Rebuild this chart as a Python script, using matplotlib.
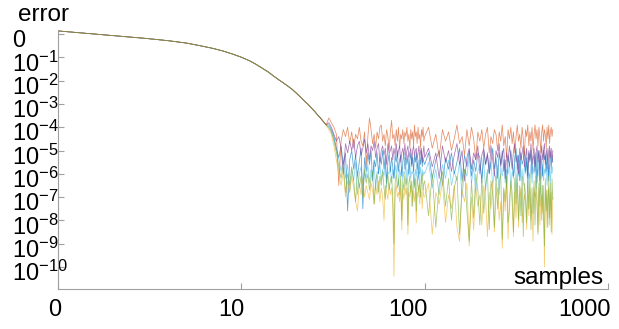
import numpy as np
import matplotlib
matplotlib.use('Agg')
import matplotlib.pyplot as plt
import matplotlib.transforms as mtransforms

plt.rcParams['font.family'] = ['Liberation Sans', 'DejaVu Sans']
plt.rcParams['mathtext.fontset'] = 'custom'
plt.rcParams['mathtext.rm'] = 'Liberation Sans'
plt.rcParams['mathtext.it'] = 'Liberation Sans:italic'

# sample counts (x) -- smooth part shared by all runs, then the noisy part
samples_decay = list(range(1, 30))
samples_noise = list(range(30, 100)) + list(range(100, 505, 5))

# log10(error)
decay_log = [0.14, -0.06, -0.18, -0.28, -0.38, -0.50, -0.61, -0.73, -0.86, -0.99,
             -1.13, -1.29, -1.46, -1.62, -1.80, -1.96, -2.10, -2.24, -2.38, -2.54,
             -2.70, -2.86, -3.00, -3.15, -3.30, -3.46, -3.60, -3.75, -3.90]

# noisy part: first 70 values for n=30..99, then 81 values for n=100..500
orange_log = [-3.6, -3.8, -4.0, -4.3, -6.5, -4.6, -4.1, -4.4, -4.0, -4.7,
              -4.2, -4.9, -4.3, -4.5, -4.0, -4.6, -4.8, -4.2, -5.6, -4.4,
              -3.6, -4.1, -4.7, -4.3, -4.9, -4.2, -4.5, -4.0, -3.9, -4.6,
              -4.3, -4.8, -4.1, -4.4, -5.0, -4.2, -3.7, -4.5, -4.3, -4.8,
              -4.1, -4.6, -4.0, -4.9, -4.3, -4.5, -4.1, -4.7, -4.2, -4.4,
              -4.0, -4.6, -4.3, -4.9, -4.1, -4.5, -4.2, -4.8, -3.9, -4.4,
              -4.2, -4.7, -4.0, -4.5, -4.3, -4.9, -4.1, -4.4, -4.0, -4.6,
              -4.4, -4.0, -4.9, -4.3, -5.3, -4.1, -4.6, -4.2, -5.0, -4.5,
              -3.9, -4.7, -4.4, -5.2, -4.1, -4.8, -4.0, -4.5, -5.4, -4.2,
              -4.6, -4.1, -4.9, -4.3, -4.0, -5.1, -4.4, -4.7, -4.1, -4.3,
              -5.0, -4.2, -4.6, -3.9, -4.8, -4.4, -5.3, -4.1, -4.5, -4.0,
              -4.7, -4.2, -5.1, -4.4, -3.9, -4.6, -4.3, -4.9, -4.0, -4.5,
              -5.2, -4.1, -4.4, -3.9, -4.8, -4.2, -4.6, -4.0, -5.0, -4.3,
              -3.9, -4.5, -4.1, -4.8, -4.0, -4.4, -5.1, -4.2, -3.9, -4.6,
              -4.1, -4.3, -4.9, -4.0, -4.5, -3.9, -4.7, -4.2, -4.0, -4.4,
              -4.1]

purple_log = [-3.8, -4.0, -4.3, -4.6, -4.4, -4.9, -6.0, -4.7, -5.1, -4.6,
              -5.0, -4.5, -5.3, -4.8, -4.6, -5.2, -4.9, -4.5, -5.1, -4.7,
              -5.4, -4.8, -5.0, -4.6, -5.3, -4.9, -4.7, -5.5, -5.0, -4.8,
              -5.2, -4.9, -5.6, -4.7, -5.1, -5.0, -4.8, -5.4, -4.9, -5.2,
              -4.7, -5.3, -5.0, -4.8, -5.5, -5.1, -4.9, -5.2, -4.7, -5.4,
              -5.0, -4.8, -5.3, -5.1, -4.9, -5.6, -5.0, -4.8, -5.2, -5.0,
              -4.9, -5.4, -5.1, -4.8, -5.3, -5.0, -4.9, -5.5, -5.1, -4.8,
              -5.3, -4.9, -5.7, -5.1, -6.2, -4.8, -5.5, -5.0, -5.9, -5.2,
              -4.7, -5.6, -5.0, -6.3, -5.3, -4.9, -5.8, -5.1, -5.4, -4.8,
              -6.0, -5.2, -4.9, -5.6, -5.1, -5.9, -4.8, -5.4, -6.1, -5.0,
              -5.3, -4.7, -5.7, -5.2, -4.9, -6.2, -5.1, -5.5, -4.8, -5.3,
              -5.8, -5.0, -4.7, -5.5, -5.2, -6.0, -4.9, -5.4, -5.1, -4.8,
              -5.7, -5.3, -4.9, -6.1, -5.0, -5.4, -4.7, -5.6, -5.2, -4.9,
              -5.9, -5.1, -4.8, -5.5, -5.0, -6.3, -5.2, -4.8, -5.4, -5.0,
              -4.7, -5.6, -5.1, -4.9, -5.8, -5.0, -4.8, -5.3, -4.9, -5.5,
              -5.0]

blue_log = [-3.9, -4.1, -4.4, -4.9, -5.3, -4.8, -5.6, -5.1, -7.6, -5.4,
            -5.0, -5.8, -5.2, -6.1, -5.5, -4.9, -7.5, -5.3, -5.9, -5.1,
            -5.6, -5.0, -6.3, -5.4, -5.7, -5.1, -6.0, -5.3, -5.6, -5.0,
            -5.8, -5.2, -6.4, -5.5, -5.1, -5.9, -5.3, -5.7, -6.2, -5.2,
            -5.5, -5.0, -5.9, -5.4, -5.2, -6.1, -5.5, -5.1, -5.8, -5.3,
            -5.6, -5.2, -6.0, -5.4, -5.1, -5.7, -5.3, -5.9, -5.2, -5.5,
            -5.1, -5.8, -5.4, -6.2, -5.3, -5.6, -5.0, -5.7, -5.3, -5.5,
            -5.6, -5.1, -6.2, -5.4, -5.0, -6.5, -5.3, -5.8, -5.1, -6.0,
            -5.5, -4.9, -6.3, -5.2, -5.7, -5.0, -6.1, -5.4, -5.9, -5.1,
            -5.3, -6.4, -5.0, -5.6, -5.2, -6.0, -5.5, -4.9, -5.8, -5.3,
            -6.2, -5.1, -5.6, -5.0, -5.9, -5.4, -6.6, -5.2, -5.7, -5.0,
            -5.5, -6.1, -5.3, -4.9, -5.8, -5.2, -6.3, -5.1, -5.6, -5.4,
            -5.0, -5.9, -5.3, -6.2, -5.1, -5.5, -5.0, -6.0, -5.4, -5.2,
            -5.7, -5.1, -6.4, -5.3, -5.0, -5.8, -5.2, -5.6, -6.1, -5.0,
            -5.4, -5.2, -5.9, -5.1, -5.5, -6.3, -5.0, -5.3, -5.8, -5.2,
            -5.5]

lightblue_log = [-4.0, -4.2, -4.5, -5.0, -5.4, -5.9, -5.3, -6.2, -5.6, -6.8,
                 -5.8, -6.3, -5.5, -6.9, -6.0, -5.7, -6.5, -5.9, -6.2, -5.6,
                 -6.4, -5.8, -6.1, -5.5, -6.7, -5.9, -6.0, -5.6, -6.3, -5.8,
                 -6.1, -5.5, -6.6, -5.9, -6.0, -5.7, -6.4, -5.8, -6.2, -5.6,
                 -6.0, -5.5, -6.5, -5.8, -6.1, -5.7, -6.3, -5.9, -6.0, -5.6,
                 -6.4, -5.8, -6.1, -5.5, -6.2, -5.9, -6.0, -5.7, -6.5, -5.8,
                 -6.1, -5.6, -6.3, -5.9, -6.0, -5.7, -6.4, -5.8, -6.1, -5.9,
                 -6.0, -5.5, -6.6, -5.8, -6.9, -5.6, -6.2, -5.4, -6.5, -5.9,
                 -6.3, -5.5, -7.0, -5.8, -6.1, -5.3, -6.4, -5.7, -6.8, -5.9,
                 -5.6, -6.2, -5.4, -6.7, -5.8, -6.0, -5.5, -6.5, -5.9, -6.3,
                 -5.6, -6.9, -5.7, -6.1, -5.4, -6.4, -5.8, -6.0, -5.5, -6.6,
                 -5.9, -6.2, -5.6, -6.8, -5.7, -6.1, -5.4, -6.3, -5.8, -6.5,
                 -5.6, -6.0, -5.5, -6.7, -5.9, -6.2, -5.6, -6.4, -5.7, -6.0,
                 -5.5, -6.6, -5.8, -6.1, -5.4, -6.9, -5.7, -6.2, -5.6, -6.3,
                 -5.8, -6.0, -5.5, -6.5, -5.7, -6.1, -5.6, -6.4, -5.8, -6.0,
                 -5.7]

green_log = [-4.0, -4.2, -4.6, -5.1, -5.7, -6.2, -5.6, -6.8, -6.0, -6.5,
             -5.7, -6.3, -7.2, -5.9, -6.6, -6.1, -7.0, -5.8, -6.4, -6.0,
             -6.7, -6.2, -5.9, -7.3, -6.3, -6.0, -6.8, -6.1, -6.5, -5.9,
             -6.6, -7.1, -6.2, -6.0, -6.7, -6.3, -6.1, -7.0, -9.0, -6.4,
             -6.0, -6.6, -6.2, -6.9, -6.1, -8.0, -6.3, -6.7, -6.0, -6.5,
             -6.2, -8.2, -6.4, -6.1, -6.8, -6.3, -7.4, -6.0, -6.6, -6.2,
             -7.6, -6.1, -6.5, -6.8, -6.2, -7.0, -6.3, -6.0, -6.7, -6.4,
             -6.3, -7.8, -6.0, -8.3, -6.5, -5.9, -7.4, -6.2, -8.0, -6.6,
             -6.1, -8.6, -6.4, -5.8, -7.6, -8.9, -6.3, -7.9, -6.0, -6.7,
             -8.2, -6.2, -7.7, -6.5, -5.9, -8.4, -6.3, -6.9, -8.3, -6.1,
             -7.5, -6.4, -6.0, -8.8, -6.6, -7.2, -6.1, -8.1, -7.6, -6.3,
             -6.8, -8.5, -6.2, -7.3, -6.0, -8.0, -6.5, -7.8, -6.1, -8.7,
             -6.4, -6.9, -8.1, -6.2, -7.5, -6.0, -8.4, -6.6, -7.7, -6.3,
             -8.2, -6.1, -7.0, -8.6, -6.4, -7.4, -6.0, -8.0, -6.5, -7.9,
             -9.1, -6.2, -7.6, -6.7, -8.3, -6.1, -7.9, -6.4, -8.5, -6.2,
             -7.1]

yellow_log = [-4.1, -4.3, -4.8, -5.4, -6.0, -6.5, -5.9, -7.0, -6.3, -6.8,
              -6.1, -6.6, -7.2, -7.6, -6.4, -6.9, -6.2, -7.0, -6.5, -6.8,
              -7.1, -6.4, -6.7, -7.3, -6.5, -6.9, -6.3, -7.2, -6.6, -7.0,
              -8.0, -6.5, -6.8, -7.1, -6.4, -6.9, -6.6, -7.3, -10.4, -6.7,
              -6.5, -7.0, -6.8, -7.2, -6.6, -8.4, -6.7, -7.1, -6.5, -6.9,
              -6.6, -8.6, -6.8, -7.0, -6.5, -7.4, -6.7, -6.9, -7.2, -6.6,
              -8.1, -6.8, -7.0, -6.5, -7.3, -6.7, -6.9, -7.5, -6.6, -7.0,
              -7.0, -6.4, -8.6, -6.8, -7.3, -6.3, -8.1, -6.9, -7.5, -6.5,
              -8.3, -8.9, -6.7, -7.2, -6.4, -9.1, -7.0, -8.4, -6.6, -7.4,
              -6.9, -8.2, -6.5, -7.1, -8.7, -6.8, -7.5, -6.3, -8.5, -7.0,
              -6.6, -8.0, -7.2, -9.2, -6.7, -7.6, -6.4, -8.8, -7.0, -6.5,
              -7.3, -8.7, -6.8, -7.9, -6.4, -8.3, -7.1, -6.6, -8.1, -7.4,
              -6.9, -7.2, -8.4, -6.5, -7.8, -6.7, -8.0, -7.3, -8.9, -6.6,
              -7.0, -6.8, -7.4, -8.5, -6.6, -8.2, -7.1, -6.9, -7.7, -6.5,
              -10.0, -7.2, -6.7, -8.3, -7.0, -6.6, -8.2, -7.3, -6.8, -8.6,
              -7.0]

series = [lightblue_log, blue_log, orange_log, yellow_log, purple_log, green_log]
colors = ['#4DBEEE', '#0072BD', '#D95319', '#EDB120', '#7E2F8E', '#77AC30']

xticks = [1, 10, 100, 1000]
xticklabels = ['0', '10', '100', '1000']
ytick_exp = [0, -1, -2, -3, -4, -5, -6, -7, -8, -9, -10]

fig = plt.figure(figsize=(6.19, 3.29), dpi=100)
ax = fig.add_axes([58/619, 1-289/329, 550/619, (289-30)/329])

x = samples_decay + samples_noise
for s, c in zip(series, colors):
    y = 10.0 ** np.array(decay_log + s)
    ax.plot(x, y, color=c, lw=0.55, alpha=0.65)

ax.set_xscale('log')
ax.set_yscale('log')
ax.set_xlim(1, 1000)
ax.set_ylim(10**-10.95, 10**0.18)

ax.set_xticks(xticks)
ax.set_xticklabels(xticklabels)
ax.set_yticks([10.0**e for e in ytick_exp])
ax.set_yticklabels(['0' if e == 0 else '$10^{%d}$' % e for e in ytick_exp])
ax.minorticks_off()

for side in ['top', 'right']:
    ax.spines[side].set_visible(False)
for side in ['left', 'bottom']:
    ax.spines[side].set_color('#a0a0a0')
    ax.spines[side].set_linewidth(0.8)

ax.tick_params(axis='both', direction='in', length=4, width=0.8, color='#a0a0a0',
               labelsize=17, labelcolor='black')
ax.tick_params(axis='y', pad=33)
ax.tick_params(axis='x', pad=7)

# labels sit a little off their ticks in the original
yshift = mtransforms.ScaledTranslation(0, -4/100, fig.dpi_scale_trans)
xshift = mtransforms.ScaledTranslation(3/100, 0, fig.dpi_scale_trans)
for lab in ax.get_yticklabels():
    lab.set_horizontalalignment('left')
    lab.set_transform(lab.get_transform() + yshift)
for lab in ax.get_xticklabels():
    lab.set_horizontalalignment('right')
    lab.set_transform(lab.get_transform() + xshift)

fig.text(18/619, 1-21/329, 'error', fontsize=17.5, ha='left', va='baseline')
fig.text(603/619, 1-284/329, 'samples', fontsize=17.5, ha='right', va='baseline')

fig.savefig('out.png', dpi=100)
